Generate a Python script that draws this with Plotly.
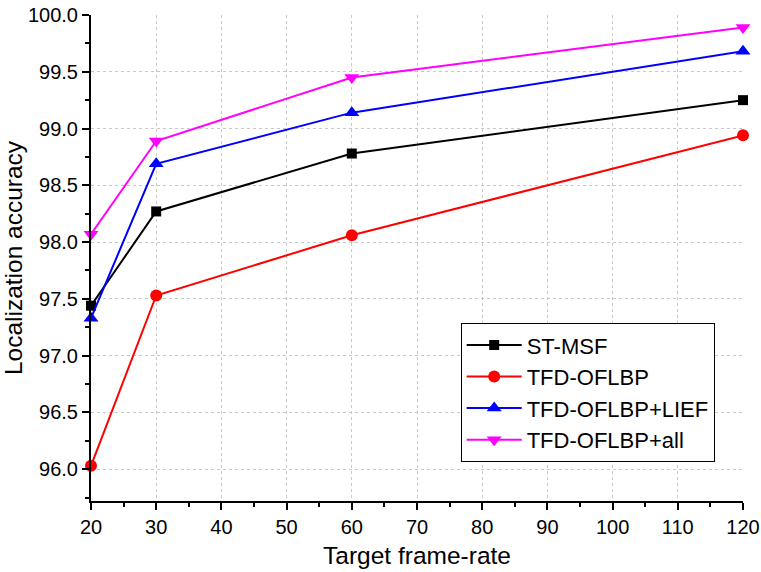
import plotly.graph_objects as go

frame_rates = [20, 30, 60, 120]
st_msf = [97.44, 98.27, 98.78, 99.25]
tfd_oflbp = [96.03, 97.53, 98.06, 98.94]
tfd_oflbp_lief = [97.33, 98.69, 99.14, 99.68]
tfd_oflbp_all = [98.07, 98.89, 99.45, 99.89]

series = [
    ("ST-MSF", st_msf, "#000000", "square", 10),
    ("TFD-OFLBP", tfd_oflbp, "#ff0000", "circle", 12),
    ("TFD-OFLBP+LIEF", tfd_oflbp_lief, "#0000ff", "triangle-up", 13),
    ("TFD-OFLBP+all", tfd_oflbp_all, "#ff00ff", "triangle-down", 13),
]

fig = go.Figure()
for name, vals, color, sym, sz in series:
    fig.add_trace(go.Scatter(
        x=frame_rates, y=vals, name=name, mode="lines+markers",
        line=dict(color=color, width=2),
        marker=dict(symbol=sym, size=sz, color=color),
        cliponaxis=False,
    ))

font = "Liberation Sans, Arial, sans-serif"
fig.update_layout(
    width=761, height=572,
    margin=dict(l=91, r=18, t=15, b=71),
    paper_bgcolor="white", plot_bgcolor="white",
    font=dict(family=font, color="black"),
    showlegend=True,
    legend=dict(
        x=0.567, y=0.366, xanchor="left", yanchor="top",
        bordercolor="black", borderwidth=1, bgcolor="white",
        font=dict(size=22, family=font, color="black"),
        tracegroupgap=0, itemwidth=55,
    ),
    xaxis=dict(
        range=[20, 120], dtick=10, tick0=20, automargin=False,
        showline=True, linecolor="black", linewidth=2,
        ticks="outside", ticklen=7, tickwidth=2, tickcolor="black",
        tickfont=dict(size=20),
        showgrid=True, gridcolor="#c8c8c8", griddash="dot", gridwidth=1,
        minor=dict(dtick=5, ticks="outside", ticklen=4, tickwidth=2, tickcolor="black", showgrid=False),
        title=dict(text="Target frame-rate", font=dict(size=24.5), standoff=10),
        zeroline=False,
    ),
    yaxis=dict(
        range=[95.72, 100.0], dtick=0.5, tick0=96, automargin=False,
        tickformat=".1f",
        showline=True, linecolor="black", linewidth=2,
        ticks="outside", ticklen=7, tickwidth=2, tickcolor="black",
        tickfont=dict(size=20),
        showgrid=True, gridcolor="#c8c8c8", griddash="dot", gridwidth=1,
        minor=dict(dtick=0.25, ticks="outside", ticklen=4, tickwidth=2, tickcolor="black", showgrid=False),
        title=dict(text="Localization accuracy", font=dict(size=24.5), standoff=6),
        zeroline=False,
    ),
)

fig.write_html("out.html")
